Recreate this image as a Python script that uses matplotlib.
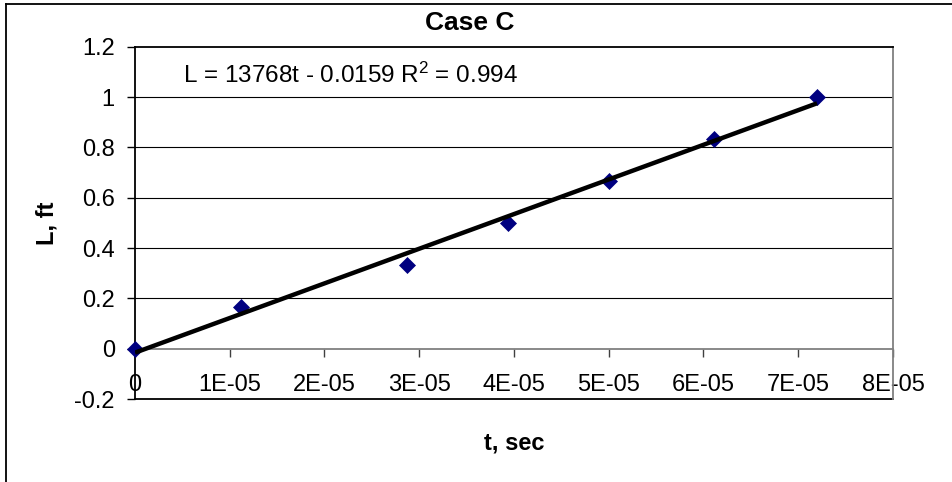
import matplotlib
matplotlib.use('Agg')
import matplotlib.pyplot as plt
from matplotlib.lines import Line2D

plt.rcParams['font.family'] = ['Liberation Sans', 'DejaVu Sans']
plt.rcParams['mathtext.default'] = 'regular'

# measured crack length vs time
t_sec = [0.0, 1.116e-5, 2.869e-5, 3.94e-5, 5.005e-5, 6.107e-5, 7.198e-5]
L_ft = [0.0, 1 / 6, 1 / 3, 0.5, 2 / 3, 5 / 6, 1.0]

# linear trendline reported on the chart
slope = 13768
intercept = -0.0159
r_squared = 0.994

x_ticks = [0, 1e-5, 2e-5, 3e-5, 4e-5, 5e-5, 6e-5, 7e-5, 8e-5]
x_labels = ['0', '1E-05', '2E-05', '3E-05', '4E-05', '5E-05', '6E-05', '7E-05', '8E-05']
y_ticks = [-0.2, 0, 0.2, 0.4, 0.6, 0.8, 1.0, 1.2]
y_labels = ['-0.2', '0', '0.2', '0.4', '0.6', '0.8', '1', '1.2']

W, H = 953, 482
fig = plt.figure(figsize=(W / 100, H / 100), dpi=100)
ax = fig.add_axes([135 / W, 1 - 399 / H, (893 - 135) / W, (399 - 46.7) / H])

ax.set_xlim(0, 8e-5)
ax.set_ylim(-0.2, 1.2)

# horizontal grid lines
for y in y_ticks[2:-1]:
    ax.axhline(y, color='black', lw=0.8, zorder=1)
ax.axhline(-0.2, color='black', lw=1.3, zorder=1, clip_on=False)

ax.plot(t_sec, L_ft, linestyle='none', marker='D', markersize=8,
        color='#000080', markeredgewidth=0.5, zorder=3, clip_on=False)

t_fit = [0, max(t_sec)]
L_fit = [slope * t + intercept for t in t_fit]
ax.plot(t_fit, L_fit, color='black', lw=3.2, solid_capstyle='butt', zorder=4)

# x axis crosses at L = 0
ax.spines['bottom'].set_position(('data', 0))
ax.spines['bottom'].set_color('#808080')
ax.spines['bottom'].set_linewidth(1.3)
ax.spines['right'].set_color('#808080')
ax.spines['right'].set_linewidth(1.3)
ax.spines['top'].set_linewidth(1.3)
ax.spines['left'].set_linewidth(1.3)

ax.set_xticks(x_ticks)
ax.set_xticklabels(x_labels)
ax.set_yticks(y_ticks)
ax.set_yticklabels(y_labels)
ax.tick_params(axis='x', direction='out', length=5.5, width=1, color='#404040',
               pad=12.5, labelsize=17)
ax.tick_params(axis='y', direction='out', length=6, width=1, color='black',
               pad=8.5, labelsize=17)

fig.text(470 / W, 1 - 23 / H, 'Case C', ha='center', va='center',
         fontsize=19, fontweight='bold')
fig.text(183 / W, 1 - 75 / H,
         'L = %dt - %.4f R$^2$ = %.3f' % (slope, -intercept, r_squared),
         ha='left', va='center', fontsize=17.5)
fig.text(47 / W, 1 - 223 / H, 'L, ft', ha='center', va='center',
         rotation=90, fontsize=17, fontweight='bold')
fig.text(514 / W, 1 - 443 / H, 't, sec', ha='center', va='center',
         fontsize=17, fontweight='bold')

# outer chart border
fig.add_artist(Line2D([5.7 / W, 5.7 / W], [-0.1, 1 - 4.3 / H], color='black',
                      lw=1.3, transform=fig.transFigure))
fig.add_artist(Line2D([5.7 / W, 1.1], [1 - 4.3 / H, 1 - 4.3 / H], color='black',
                      lw=1.3, transform=fig.transFigure))

fig.savefig('out.png', dpi=100)
